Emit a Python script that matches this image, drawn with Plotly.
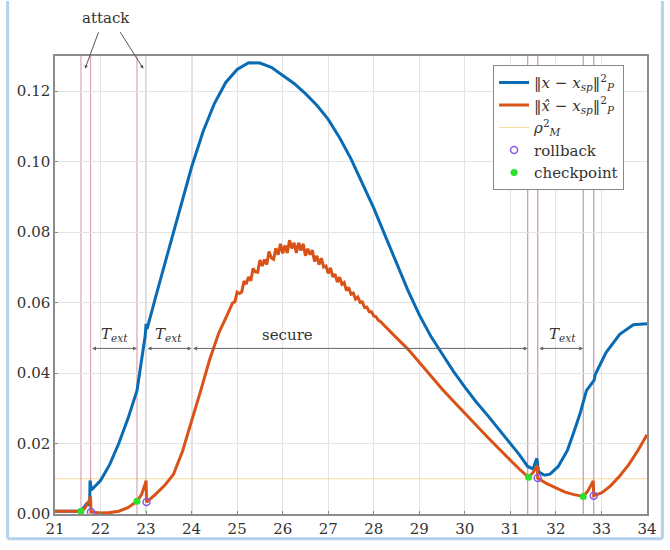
import numpy as np
import plotly.graph_objects as go

# ---- data -------------------------------------------------------------
# true state error ||x - x_sp||_P^2
t_true = [21.00, 21.57, 21.70, 21.76, 21.77, 21.80, 22.00, 22.20, 22.40, 22.60,
          22.80, 22.90, 22.98, 23.00, 23.02, 23.25, 23.50, 23.75, 24.00, 24.25,
          24.50, 24.75, 25.00, 25.25, 25.50, 25.75, 26.00, 26.25, 26.50, 26.75,
          27.00, 27.25, 27.50, 27.75, 28.00, 28.25, 28.50, 28.75, 29.00, 29.25,
          29.50, 29.75, 30.00, 30.25, 30.50, 30.75, 31.00, 31.20, 31.38, 31.50,
          31.58, 31.62, 31.75, 31.87, 32.05, 32.25, 32.40, 32.53, 32.67, 32.82,
          32.84, 32.86, 33.10, 33.40, 33.70, 34.00]
v_true = [0.0008, 0.0008, 0.0030, 0.0025, 0.0095, 0.0068, 0.0095, 0.0140, 0.0200, 0.0270,
          0.0350, 0.0430, 0.0505, 0.0540, 0.0525, 0.0635, 0.0750, 0.0870, 0.0985, 0.1085,
          0.1165, 0.1225, 0.1262, 0.1281, 0.1280, 0.1268, 0.1246, 0.1222, 0.1193, 0.1160,
          0.1120, 0.1068, 0.1008, 0.0940, 0.0868, 0.0790, 0.0712, 0.0635, 0.0565, 0.0505,
          0.0455, 0.0405, 0.0360, 0.0318, 0.0280, 0.0240, 0.0202, 0.0168, 0.0135, 0.0128,
          0.0158, 0.0120, 0.0110, 0.0113, 0.0135, 0.0180, 0.0235, 0.0285, 0.0350, 0.0378,
          0.0380, 0.0395, 0.0458, 0.0510, 0.0537, 0.0540]

# estimated state error ||x_hat - x_sp||_P^2 (noisy around its maximum)
t_est = [21.00, 21.57, 21.65, 21.74, 21.78, 21.79, 22.00, 22.20, 22.40, 22.60,
         22.80, 22.90, 22.98, 23.00, 23.01, 23.20, 23.40, 23.60, 23.80, 24.00,
         24.20, 24.40, 24.60, 24.80,
         24.90, 24.95, 25.00, 25.05, 25.10, 25.15, 25.20, 25.25, 25.30, 25.35,
         25.40, 25.45, 25.50, 25.55, 25.60, 25.65, 25.70, 25.75, 25.80, 25.85,
         25.90, 25.95, 26.00, 26.05, 26.10, 26.15, 26.20, 26.25, 26.30, 26.35,
         26.40, 26.45, 26.50, 26.55, 26.60, 26.65, 26.70, 26.75, 26.80, 26.85,
         26.90, 26.95, 27.00, 27.05, 27.10, 27.15, 27.20, 27.25, 27.30, 27.35,
         27.40, 27.45, 27.50, 27.55, 27.60, 27.65, 27.70, 27.75, 27.80, 27.85,
         27.90, 27.95, 28.00, 28.05, 28.10, 28.15, 28.20,
         28.50, 28.75, 29.00, 29.25, 29.50, 29.75, 30.00, 30.25, 30.50, 30.75,
         31.00, 31.20, 31.40, 31.50, 31.59, 31.60, 31.80, 32.00, 32.20, 32.40,
         32.60, 32.70, 32.82, 32.83, 33.00, 33.20, 33.40, 33.60, 33.80, 34.00]
v_est = [0.0008, 0.0008, 0.0015, 0.0035, 0.0050, 0.0006, 0.0003, 0.0004, 0.0008, 0.0018,
         0.0036, 0.0055, 0.0085, 0.0095, 0.0034, 0.0055, 0.0080, 0.0112, 0.0178, 0.0262,
         0.0350, 0.0440, 0.0515, 0.0570,
         0.0599, 0.0602, 0.0630, 0.0626, 0.0630, 0.0661, 0.0653, 0.0673, 0.0662, 0.0697,
         0.0687, 0.0686, 0.0721, 0.0704, 0.0722, 0.0708, 0.0745, 0.0727, 0.0723, 0.0754,
         0.0736, 0.0767, 0.0740, 0.0762, 0.0741, 0.0777, 0.0754, 0.0770, 0.0741, 0.0770,
         0.0748, 0.0767, 0.0733, 0.0753, 0.0736, 0.0749, 0.0717, 0.0733, 0.0708, 0.0726,
         0.0701, 0.0704, 0.0683, 0.0699, 0.0673, 0.0681, 0.0658, 0.0672, 0.0652, 0.0657,
         0.0634, 0.0643, 0.0624, 0.0627, 0.0610, 0.0616, 0.0601, 0.0602, 0.0586, 0.0587,
         0.0574, 0.0574, 0.0562, 0.0560, 0.0550, 0.0546, 0.0539,
         0.0500, 0.0468, 0.0430, 0.0390, 0.0355, 0.0320, 0.0285, 0.0250, 0.0218, 0.0185,
         0.0152, 0.0127, 0.0104, 0.0118, 0.0138, 0.0102, 0.0086, 0.0073, 0.0062, 0.0055,
         0.0050, 0.0065, 0.0094, 0.0052, 0.0060, 0.0080, 0.0108, 0.0140, 0.0180, 0.0225]

rho_M2 = 0.01

rollback_t = [21.79, 23.01, 31.60, 32.83]
rollback_v = [0.0006, 0.0034, 0.0102, 0.0052]
checkpoint_t = [21.57, 22.80, 31.40, 32.60]
checkpoint_v = [0.0008, 0.0036, 0.0104, 0.0050]

attack_lines = [21.57, 21.78, 22.80, 23.00]
secure_line = 24.0
event_lines = [31.38, 31.60, 32.60, 32.83]

# interval markers: (start, end, label)
intervals = [(21.78, 22.80, "<i>T<sub>ext</sub></i>"),
             (23.00, 24.00, "<i>T<sub>ext</sub></i>"),
             (24.00, 31.38, "secure"),
             (31.60, 32.60, "<i>T<sub>ext</sub></i>")]
interval_label_x = [22.30, 23.50, 26.10, 32.15]
interval_y = 0.047
attack_heads = [21.66, 22.94]

x_ticks = list(range(21, 35))
y_ticks = [0.00, 0.02, 0.04, 0.06, 0.08, 0.10, 0.12]

# ---- style --------------------------------------------------------------
FONT = "DejaVu Serif"
BLUE = "#0A6BB5"
ORANGE = "#D95319"
RHO = "rgba(237,177,32,0.45)"

fig = go.Figure()

fig.add_trace(go.Scatter(x=[21, 34], y=[rho_M2, rho_M2], mode="lines",
                         line=dict(color=RHO, width=1), hoverinfo="skip",
                         showlegend=False))
fig.add_trace(go.Scatter(x=t_true, y=v_true, mode="lines",
                         line=dict(color=BLUE, width=3),
                         name="‖<i>x</i> − <i>x<sub>sp</sub></i>‖<sup>2</sup><sub><i>P</i></sub>"))
fig.add_trace(go.Scatter(x=t_est, y=v_est, mode="lines",
                         line=dict(color=ORANGE, width=3),
                         name="‖<i>x̂</i> − <i>x<sub>sp</sub></i>‖<sup>2</sup><sub><i>P</i></sub>"))
# legend entry for the threshold (listed after the two curves)
fig.add_trace(go.Scatter(x=[None], y=[None], mode="lines",
                         line=dict(color=RHO, width=1),
                         name="<i>ρ</i><sup>2</sup><sub><i>M</i></sub>"))
fig.add_trace(go.Scatter(x=rollback_t, y=rollback_v, mode="markers",
                         marker=dict(symbol="circle-open", size=7, color="#8A5CE6",
                                     line=dict(width=1.5)),
                         name="rollback"))
fig.add_trace(go.Scatter(x=checkpoint_t, y=checkpoint_v, mode="markers",
                         marker=dict(symbol="circle", size=7, color="#2EE02E"),
                         name="checkpoint"))

shapes = []
for xv in attack_lines:
    shapes.append(dict(type="line", xref="x", yref="paper", x0=xv, x1=xv, y0=0, y1=1,
                       line=dict(color="#D9A3B4", width=1.2), layer="between"))
shapes.append(dict(type="line", xref="x", yref="paper", x0=secure_line, x1=secure_line,
                   y0=0, y1=1, line=dict(color="#93707F", width=1.2), layer="between"))
for xv in event_lines:
    shapes.append(dict(type="line", xref="x", yref="paper", x0=xv, x1=xv, y0=0, y1=1,
                       line=dict(color="#C49AAA", width=1.2), layer="between"))
# light frame around the figure
frame = dict(color="#B3D1EC", width=3)
shapes += [
    dict(type="line", xref="paper", yref="paper", x0=-0.080, x1=-0.080, y0=-0.054, y1=1.12, line=frame),
    dict(type="line", xref="paper", yref="paper", x0=1.026, x1=1.026, y0=-0.054, y1=1.12, line=frame),
    dict(type="line", xref="paper", yref="paper", x0=-0.080, x1=1.026, y0=-0.054, y1=-0.054, line=frame),
]

annotations = []
for (a, b, lab), lx in zip(intervals, interval_label_x):
    annotations.append(dict(x=b, y=interval_y, ax=a, ay=interval_y, xref="x", yref="y",
                            axref="x", ayref="y", text="", showarrow=True,
                            arrowside="end+start", arrowhead=2, arrowsize=0.8,
                            arrowwidth=1, arrowcolor="#666666", standoff=0, startstandoff=0))
    annotations.append(dict(x=lx, y=interval_y, xref="x", yref="y", text=lab,
                            showarrow=False, yanchor="bottom", yshift=2,
                            font=dict(family=FONT, size=15, color="#333333")))

annotations.append(dict(x=0.086, y=1.082, xref="paper", yref="paper", text="attack",
                        showarrow=False, xanchor="center", yanchor="middle",
                        font=dict(family=FONT, size=15, color="#333333")))
for hx, axp in zip(attack_heads, [14, -24]):
    annotations.append(dict(x=hx, y=0.1264, xref="x", yref="y", ax=axp, ay=-38,
                            text="", showarrow=True, arrowhead=2, arrowsize=0.7,
                            arrowwidth=1, arrowcolor="#555555"))

fig.update_layout(
    width=670, height=550,
    margin=dict(l=55, r=23, t=56, b=28),
    paper_bgcolor="white", plot_bgcolor="white",
    font=dict(family=FONT, size=15, color="#333333"),
    shapes=shapes, annotations=annotations,
    legend=dict(x=0.74, y=0.98, xanchor="left", yanchor="top",
                bgcolor="white", bordercolor="#888888", borderwidth=1,
                font=dict(family=FONT, size=15, color="#333333"),
                tracegroupgap=0),
)
fig.update_xaxes(range=[21, 34], tickvals=x_ticks, ticktext=[str(v) for v in x_ticks],
                 showgrid=True, gridcolor="#E4E4E4", gridwidth=1, zeroline=False,
                 showline=True, linecolor="#8C8C8C", linewidth=1.5, mirror=True,
                 ticks="inside", ticklen=3, tickcolor="#8C8C8C")
fig.update_yaxes(range=[0, 0.13], tickvals=y_ticks, ticktext=[f"{v:.2f}" for v in y_ticks],
                 showgrid=True, gridcolor="#E4E4E4", gridwidth=1, zeroline=False,
                 showline=True, linecolor="#8C8C8C", linewidth=1.5, mirror=True,
                 ticks="inside", ticklen=3, tickcolor="#8C8C8C")

fig.write_html("out.html")
